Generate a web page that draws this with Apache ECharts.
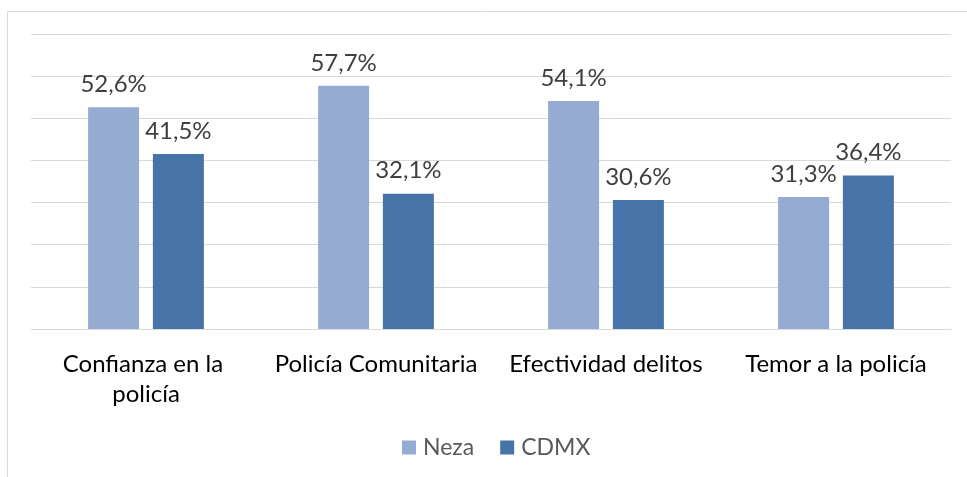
<!DOCTYPE html>
<html><head><meta charset="utf-8">
<script src="https://cdn.jsdelivr.net/npm/echarts@6/dist/echarts.min.js"></script>
<style>html,body{margin:0;padding:0;background:#fff}#c{width:967px;height:477px}</style>
</head><body><div id="c"></div>
<script>
const categories = ["Confianza en la policía", "Policía Comunitaria", "Efectividad delitos", "Temor a la policía"];
const seriesNames = ["Neza", "CDMX"];
const nezaValues = [52.6, 57.7, 54.1, 31.3];
const cdmxValues = [41.5, 32.1, 30.6, 36.4];
const yTicks = [0, 10, 20, 30, 40, 50, 60, 70];

const chart = echarts.init(document.getElementById('c'), null, {renderer: 'canvas'});
const FONT = 'Lato, "Liberation Sans", sans-serif';
const lbl = {
  show: true, position: 'top', distance: 11,
  fontFamily: FONT, fontSize: 24, color: '#404040',
  formatter: p => p.value.toFixed(1).replace('.', ',') + '%'
};
chart.setOption({
  animation: false,
  backgroundColor: '#ffffff',
  graphic: [{
    type: 'rect', silent: true,
    shape: {x: 7.5, y: 11.5, width: 1000, height: 500},
    style: {fill: 'none', stroke: '#d9d9d9', lineWidth: 1}
  }],
  grid: {left: 31, right: 16, top: 34, bottom: 148},
  legend: {
    bottom: 13, left: 397, itemWidth: 14, itemHeight: 14, itemGap: 26,
    icon: 'rect',
    textStyle: {fontFamily: FONT, fontSize: 23, color: '#595959', padding: [0, 0, 0, 2]},
    data: seriesNames
  },
  xAxis: {
    type: 'category', data: categories,
    axisLine: {lineStyle: {color: '#d9d9d9', width: 1}},
    axisTick: {show: false},
    axisLabel: {
      interval: 0, margin: 20, width: 228, overflow: 'break',
      fontFamily: FONT, fontSize: 24, color: '#000000', lineHeight: 30
    }
  },
  yAxis: {
    type: 'value', min: yTicks[0], max: yTicks[yTicks.length - 1], interval: 10,
    axisLabel: {show: false}, axisLine: {show: false}, axisTick: {show: false},
    splitLine: {lineStyle: {color: '#d9d9d9', width: 1}}
  },
  series: [
    {name: seriesNames[0], type: 'bar', data: nezaValues, barWidth: 51, barGap: '27%',
     itemStyle: {color: '#95abd1'}, label: lbl},
    {name: seriesNames[1], type: 'bar', data: cdmxValues, barWidth: 51,
     itemStyle: {color: '#4673a8'}, label: lbl}
  ]
});
</script></body></html>
